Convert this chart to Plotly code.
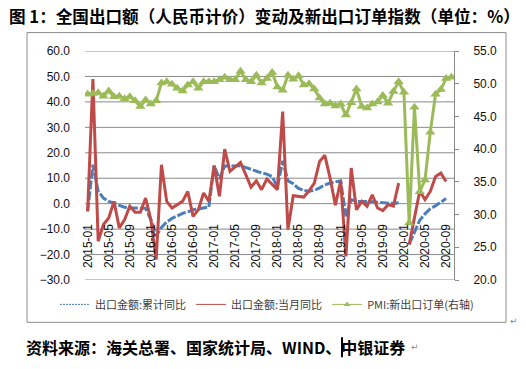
import plotly.graph_objects as go

# ---------------- data ----------------
months = [f"{y}-{m:02d}" for y in range(2015, 2021) for m in range(1, 13)][:70]  # 2015-01 .. 2020-10
tick_labels = months[::4]
left_ticks = [-30, -20, -10, 0, 10, 20, 30, 40, 50, 60]

export_cum = [  # 出口金额:累计同比 (%)
    -3.0, 15.3, 4.9, 2.2, 0.9, 0.3, -0.7, -1.4, -1.7, -1.8, -1.8, -1.8,
    -6.3, -12.8, -9.3, -7.2, -5.8, -4.8, -3.8, -3.2, -2.4, -2.1, -1.6, -1.3,
    15.0, 9.7, 14.8, 14.7, 14.8, 14.9, 14.2, 13.2, 12.7, 12.1, 11.6, 10.7,
    6.5, 16.8, 9.0, 7.8, 6.0, 5.2, 4.9, 5.2, 6.2, 7.4, 8.1, 8.5,
    9.0, -5.0, 1.6, 0.9, 0.9, 0.8, 0.8, 0.6, 0.3, 0.2, 0.1, 0.4,
    None, -15.9, -11.0, -6.5, -4.0, -2.0, -0.8, 0.5, 2.0, None,
]

export_month = [  # 出口金额:当月同比 (%)
    -3.0, 49.0, -14.8, -8.2, -5.6, 0.9, -9.5, -6.3, -1.0, -3.4, -3.4, 2.2,
    -6.3, -22.0, 15.3, 0.9, -1.7, -0.5, 0.9, 4.8, -5.0, -2.4, 4.2, 0.9,
    14.9, 2.9, 21.4, 12.7, 14.5, 16.2, 11.4, 6.5, 9.0, 5.5, 9.7, 7.5,
    5.5, 36.2, -10.2, 3.1, 2.8, 2.6, 5.0, 8.1, 16.6, 19.0, 10.0, -0.6,
    9.0, -20.7, 14.0, -2.4, 0.9, -1.0, 3.5, -1.7, -2.7, -0.4, -1.0, 8.1,
    None, -16.1, -5.6, 5.0, 1.6, 4.8, 10.7, 12.0, 8.7, None,
]

pmi_export = [  # PMI:新出口订单 (右轴)
    48.4, 48.5, 48.6, 48.1, 48.9, 48.0, 48.1, 47.7, 48.0, 47.4, 46.5, 47.5,
    46.9, 47.4, 50.1, 50.3, 49.9, 49.3, 48.9, 49.8, 50.3, 49.3, 50.3, 50.3,
    50.3, 50.6, 51.0, 50.6, 50.6, 51.9, 50.6, 50.3, 51.3, 50.1, 50.8, 51.7,
    49.5, 49.0, 51.3, 50.7, 51.2, 49.8, 50.0, 49.2, 47.8, 46.9, 47.0, 46.6,
    46.9, 45.2, 47.1, 49.2, 46.5, 46.3, 46.9, 47.2, 48.2, 47.0, 48.8, 50.3,
    48.7, 28.7, 46.4, 33.5, 35.3, 42.6, 48.4, 49.1, 50.8, 51.0,
]

title_text = "图 1：全国出口额（人民币计价）变动及新出口订单指数（单位：%）"
source_text = "资料来源：海关总署、国家统计局、WIND、中银证券"
names = ["出口金额:累计同比", "出口金额:当月同比", "PMI:新出口订单(右轴)"]

BLUE = "#4a7ebb"
RED = "#be4b48"
GREEN = "#9bbb59"
GRID = "#8a8a8a"

# ---------------- geometry helpers ----------------
W, H = 526, 369
L, R, T, B = 85, 454, 50.5, 280.5


def px_x(x):
    return (x - L) / (R - L)


def px_y(y):
    return (B - y) / (B - T)


fig = go.Figure()

# main traces (no legend)
fig.add_trace(go.Scatter(x=months, y=pmi_export, yaxis="y2", mode="lines+markers",
                         line=dict(color=GREEN, width=3),
                         marker=dict(symbol="triangle-up", size=9, color=GREEN),
                         showlegend=False, hoverinfo="skip"))
fig.add_trace(go.Scatter(x=months, y=export_cum, mode="lines",
                         line=dict(color=BLUE, width=3, dash="9px,2px"),
                         showlegend=False, hoverinfo="skip"))
fig.add_trace(go.Scatter(x=months, y=export_month, mode="lines",
                         line=dict(color=RED, width=3),
                         showlegend=False, hoverinfo="skip"))

# legend entries (thin samples as in the reference)
fig.add_trace(go.Scatter(x=[None], y=[None], mode="lines", name=names[0],
                         line=dict(color=BLUE, width=1, dash="2px,1px")))
fig.add_trace(go.Scatter(x=[None], y=[None], mode="lines", name=names[1],
                         line=dict(color=RED, width=1)))
fig.add_trace(go.Scatter(x=[None], y=[None], mode="lines+markers", name=names[2],
                         line=dict(color=GREEN, width=1),
                         marker=dict(symbol="triangle-up", size=6, color=GREEN)))

tick_font = dict(family="Liberation Sans, Arial, sans-serif", size=12, color="#111")

fig.update_layout(
    width=W, height=H,
    margin=dict(l=L, r=W - R, t=T, b=H - B, autoexpand=False),
    paper_bgcolor="white", plot_bgcolor="rgba(0,0,0,0)",
    showlegend=True,
    legend=dict(orientation="h", x=px_x(55), y=px_y(305), xanchor="left", yanchor="middle",
                font=dict(family="Noto Sans CJK SC, sans-serif", size=11, color="#404040"),
                bgcolor="rgba(0,0,0,0)", itemwidth=30, tracegroupgap=0),
    xaxis=dict(type="category", categoryorder="array", categoryarray=months,
               range=[-0.5, len(months) - 0.5],
               tickmode="array", tickvals=tick_labels, ticktext=tick_labels,
               tickangle=-90, tickfont=tick_font, ticks="", ticklabelstandoff=17,
               showgrid=False, showline=False, zeroline=False,
               anchor="free", position=1 / 3),
    yaxis=dict(range=[-30, 60], tickmode="array", tickvals=left_ticks, tickformat=".1f",
               tickfont=tick_font, showgrid=False,
               zeroline=False, showline=False, ticks="", ticklabelstandoff=14),
    yaxis2=dict(range=[20, 55], dtick=5, tick0=20, tickformat=".1f", overlaying="y", side="right",
                tickfont=tick_font, showgrid=False, zeroline=False,
                showline=True, linecolor=GRID, linewidth=1,
                ticks="outside", ticklen=4, tickcolor=GRID, ticklabelstandoff=12),
)

# horizontal gridlines at the left-axis ticks
for v in left_ticks:
    fig.add_shape(type="line", xref="paper", yref="y", x0=0, x1=1, y0=v, y1=v,
                  line=dict(color=GRID, width=1), layer="below")

# outer chart frame
fig.add_shape(type="rect", xref="paper", yref="paper",
              x0=px_x(27), x1=px_x(506), y0=px_y(323), y1=px_y(32),
              line=dict(color="#8c8c8c", width=1), fillcolor="rgba(0,0,0,0)", layer="below")

# title
fig.add_annotation(text=title_text, xref="paper", yref="paper", x=px_x(7), y=px_y(15),
                   xanchor="left", yanchor="middle", showarrow=False,
                   font=dict(family="Noto Sans CJK SC, sans-serif", size=16.6, color="#000", weight=700))
# source
fig.add_annotation(text=source_text, xref="paper", yref="paper", x=px_x(24), y=px_y(348),
                   xanchor="left", yanchor="middle", showarrow=False,
                   font=dict(family="Noto Sans CJK SC, sans-serif", size=16, color="#000", weight=700))
# text cursor seen in the reference
fig.add_shape(type="line", xref="paper", yref="paper", x0=px_x(342), x1=px_x(342),
              y0=px_y(338), y1=px_y(358), line=dict(color="#000", width=2))
# paragraph marks
fig.add_annotation(text="↵", xref="paper", yref="paper", x=px_x(508), y=px_y(322),
                   xanchor="left", yanchor="middle", showarrow=False,
                   font=dict(family="DejaVu Sans", size=9, color="#888"))
fig.add_annotation(text="↵", xref="paper", yref="paper", x=px_x(409), y=px_y(348),
                   xanchor="left", yanchor="middle", showarrow=False,
                   font=dict(family="DejaVu Sans", size=9, color="#888"))

fig.write_html("out.html", config={"displayModeBar": False},
               post_script="document.body.style.margin='0px';")
